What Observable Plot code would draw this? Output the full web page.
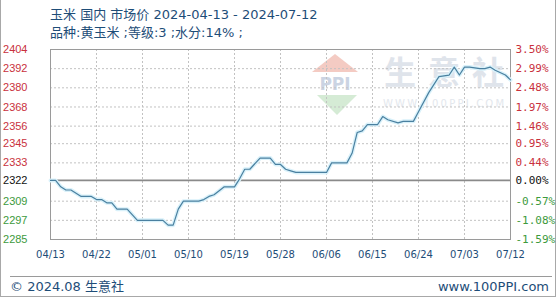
<!DOCTYPE html>
<html><head><meta charset="utf-8">
<script src="https://cdn.jsdelivr.net/npm/d3@7"></script>
<script src="https://cdn.jsdelivr.net/npm/@observablehq/plot@0.6"></script>
<style>
body{margin:0;background:#fff;}
#wrap{position:relative;width:560px;height:300px;overflow:hidden;font-family:"DejaVu Sans","Noto Sans CJK SC",sans-serif;color:#1e4d78;}
#border{position:absolute;left:0;top:-2px;width:556px;height:299px;border:1px solid #a8a8a8;box-sizing:border-box;}
.t{position:absolute;font-size:13px;line-height:16px;white-space:nowrap;}
#wm1{position:absolute;left:384px;top:54px;font-family:"Noto Sans CJK SC";font-weight:bold;font-size:32px;line-height:32px;letter-spacing:12px;color:#dfe4eb;white-space:nowrap;}
#wm2{position:absolute;left:383px;top:98px;font-size:10px;line-height:12px;letter-spacing:2.2px;color:#e3e7ed;white-space:nowrap;}
#logo{position:absolute;left:305px;top:52px;}
#footline{position:absolute;left:10px;top:276px;width:542px;height:0;border-top:1px solid #9a9a9a;}
#chart{position:absolute;left:0;top:0;}
</style></head><body>
<div id="wrap">
  <div id="border"></div>
  <svg id="logo" width="60" height="70">
    <polygon points="7,20 30,2 53,20" fill="#f4cbc3"/>
    <text x="30" y="38" text-anchor="middle" font-family="DejaVu Sans" font-weight="bold" font-size="17" fill="#cbd4e3">PPI</text>
    <polygon points="12,43 52,43 32,63" fill="#d5ebd5"/>
  </svg>
  <div id="wm1">生意社</div>
  <div id="wm2">WWW.100PPI.COM</div>
  <div class="t" id="title1" style="left:50px;top:7px;">玉米 国内 市场价 2024-04-13 - 2024-07-12</div>
  <div class="t" id="title2" style="left:50px;top:25px;">品种:黄玉米 ;等级:3 ;水分:14% ;</div>
  <div id="chart"></div>
  <div id="footline"></div>
  <div class="t" style="left:10px;top:279px;">© 2024.08 生意社</div>
  <div class="t" style="right:11px;top:279px;">www.100PPI.com</div>
</div>
<script>
const dates = ["2024-04-13","2024-04-14","2024-04-15","2024-04-16","2024-04-17","2024-04-19","2024-04-21","2024-04-22","2024-04-23","2024-04-24","2024-04-25","2024-04-26","2024-04-28","2024-04-30","2024-05-05","2024-05-06","2024-05-07","2024-05-08","2024-05-09","2024-05-12","2024-05-13","2024-05-14","2024-05-15","2024-05-17","2024-05-19","2024-05-20","2024-05-21","2024-05-22","2024-05-24","2024-05-26","2024-05-27","2024-05-28","2024-05-29","2024-05-30","2024-05-31","2024-06-06","2024-06-07","2024-06-10","2024-06-11","2024-06-12","2024-06-13","2024-06-14","2024-06-16","2024-06-17","2024-06-18","2024-06-20","2024-06-21","2024-06-23","2024-06-24","2024-06-26","2024-06-28","2024-06-30","2024-07-01","2024-07-02","2024-07-03","2024-07-04","2024-07-06","2024-07-07","2024-07-08","2024-07-09","2024-07-11","2024-07-12"];
const prices = [2322,2322,2318,2316,2316,2312,2312,2310,2310,2308,2308,2304,2304,2297,2297,2294,2294,2304,2309,2309,2310,2312,2313,2318,2318,2323,2329,2329,2336,2336,2332,2332,2329,2328,2327,2327,2333,2333,2339,2352,2353,2357,2357,2362,2360,2358,2359,2359,2365,2377,2387,2388,2393,2388,2393,2393,2392,2392,2393,2391,2388,2385];
const baseValue = 2322;
const yTicks = [2404,2392,2380,2368,2356,2345,2333,2322,2309,2297,2285];
const pctLabels = ["3.50%","2.99%","2.48%","1.97%","1.46%","0.95%","0.44%","0.00%","-0.57%","-1.08%","-1.59%"];
const xTickDates = ["2024-04-13","2024-04-22","2024-05-01","2024-05-10","2024-05-19","2024-05-28","2024-06-06","2024-06-15","2024-06-24","2024-07-03","2024-07-12"];
const xTickLabels = ["04/13","04/22","05/01","05/10","05/19","05/28","06/06","06/15","06/24","07/03","07/12"];

const data = dates.map((d, i) => ({date: new Date(d), price: prices[i]}));
const xTicks = xTickDates.map(d => new Date(d));
const tickColor = v => v > baseValue ? "#c9313d" : v < baseValue ? "#3d9a3d" : "#111111";

const chart = Plot.plot({
  width: 560, height: 300,
  marginLeft: 50, marginRight: 50, marginTop: 49, marginBottom: 61,
  x: {type: "utc", domain: [xTicks[0], xTicks[xTicks.length - 1]], axis: null},
  y: {domain: [d3.min(yTicks), d3.max(yTicks)], axis: null},
  color: {type: "identity"},
  style: {background: "transparent", overflow: "visible", fontFamily: "DejaVu Sans"},
  marks: [
    Plot.ruleY(yTicks.filter(v => v !== baseValue), {stroke: "#c2c2c2", strokeDasharray: "2,2"}),
    Plot.ruleX(xTicks, {stroke: "#c2c2c2", strokeDasharray: "2,2"}),
    Plot.ruleY([baseValue], {stroke: "#8a8a8a", strokeWidth: 1.6}),
    Plot.frame({stroke: "#9a9a9a"}),
    Plot.line(data, {x: "date", y: "price", stroke: "#d9f1fa", strokeWidth: 4}),
    Plot.line(data, {x: "date", y: "price", stroke: "#4a80a0", strokeWidth: 1.2}),
    Plot.text(yTicks, {y: d => d, frameAnchor: "left", textAnchor: "end", dx: -23, text: d => String(d), fill: d => tickColor(d), fontSize: 11, fontFamily: "Liberation Sans"}),
    Plot.text(yTicks, {y: d => d, frameAnchor: "right", textAnchor: "start", dx: 5, text: (d, i) => pctLabels[i], fill: d => tickColor(d), fontSize: 11, fontFamily: "DejaVu Sans Mono"}),
    Plot.text(xTicks, {x: d => d, frameAnchor: "bottom", dy: 18, text: (d, i) => xTickLabels[i], fill: "#1e4d78", fontSize: 10, fontFamily: "DejaVu Sans"})
  ]
});
document.getElementById("chart").appendChild(chart);
</script>
</body></html>
